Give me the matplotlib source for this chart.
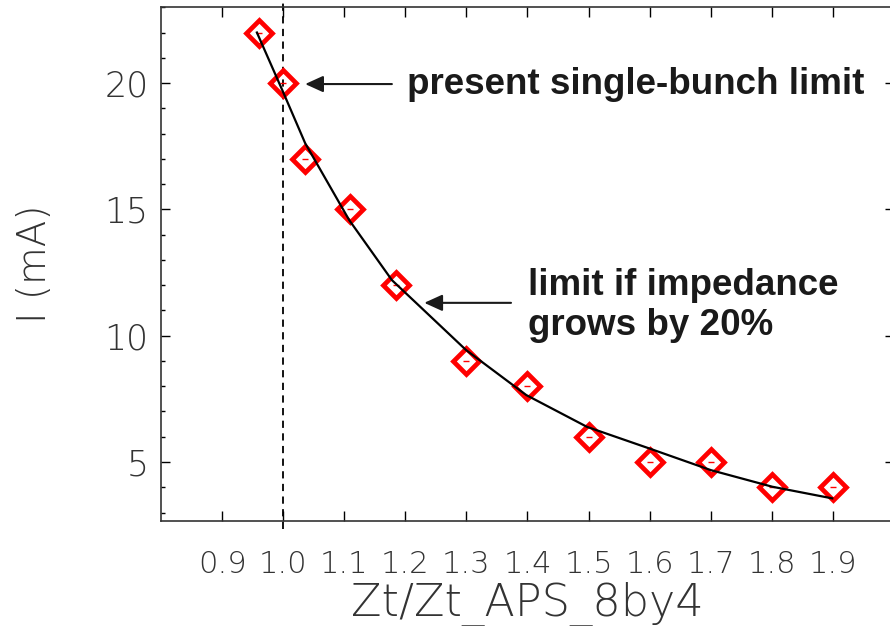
import numpy as np
import matplotlib.pyplot as plt
from matplotlib.ticker import MultipleLocator

# measured points (red diamonds)
zt = [0.96, 1.0, 1.035, 1.11, 1.185, 1.3, 1.4, 1.5, 1.6, 1.7, 1.8, 1.9]
current = [22, 20, 17, 15, 12, 9, 8, 6, 5, 5, 4, 4]

# fitted curve (black line)
fit_zt = [0.957, 1.0, 1.036, 1.108, 1.178, 1.218, 1.2995, 1.398, 1.4975,
          1.599, 1.700, 1.801, 1.899]
fit_current = [22.0, 19.64, 17.62, 14.58, 12.20, 11.29, 9.43, 7.65, 6.39,
               5.54, 4.68, 4.02, 3.56]

xticks = [0.9, 1.0, 1.1, 1.2, 1.3, 1.4, 1.5, 1.6, 1.7, 1.8, 1.9]
yticks = [5, 10, 15, 20]
present_limit = 1.0

fig = plt.figure(figsize=(8.9, 6.26), dpi=100)
ax = fig.add_axes([161/890, 105/626, 733/890, 514/626])

ax.plot(zt, current, linestyle='none', marker='D', markersize=13,
        markerfacecolor='none', markeredgecolor='red', markeredgewidth=3.4,
        zorder=3)
ax.plot(zt, current, linestyle='none', marker='_', markersize=4,
        markeredgecolor='red', markeredgewidth=1, zorder=3)
ax.plot(fit_zt, fit_current, color='black', lw=1.6, zorder=4)
ax.plot([present_limit, present_limit], [2.35, 23.3], color='black', lw=1.3,
        linestyle=(0, (4, 3)), clip_on=False, zorder=2)

ax.set_xlim(0.8, 2.0)
ax.set_ylim(2.665, 23.01)
ax.set_xticks(xticks)
ax.set_xticklabels(['%.1f' % v for v in xticks])
ax.set_yticks(yticks)
ax.yaxis.set_minor_locator(MultipleLocator(1))

lab_col = '#333333'
ax.tick_params(axis='x', which='major', direction='in', top=True, length=7.2,
               width=1, pad=21, labelsize=22, labelcolor=lab_col)
ax.tick_params(axis='y', which='major', direction='in', right=True, length=6.5,
               width=1, pad=9, labelsize=25, labelcolor=lab_col)
ax.tick_params(axis='y', which='minor', direction='in', right=True, length=3,
               width=1)
for lab in ax.get_xticklabels() + ax.get_yticklabels():
    lab.set_family('DejaVu Sans')
    lab.set_weight('ultralight')
for s in ax.spines.values():
    s.set_linewidth(1.2)
    s.set_color('#333333')

ax.set_xlabel('Zt/Zt_APS_8by4', family='DejaVu Sans', weight='ultralight',
              fontsize=32, color=lab_col)
ax.set_ylabel('I (mA)', family='DejaVu Sans', weight='ultralight',
              fontsize=28, color=lab_col)
ax.xaxis.set_label_coords(0.5, -0.118)
ax.yaxis.set_label_coords(-0.146, 0.5)

txt_col = '#1a1a1a'
head = '-|>,head_length=1.1,head_width=0.5'
ax.annotate('', xy=(1.036, 19.96), xytext=(1.178, 19.96),
            arrowprops=dict(arrowstyle=head, color=txt_col, lw=1.5,
                            shrinkA=0, shrinkB=0))
ax.text(1.203, 19.96, 'present single-bunch limit', family='Liberation Sans',
        weight='bold', fontsize=26.5, color=txt_col, va='center', ha='left')

ax.annotate('', xy=(1.231, 11.30), xytext=(1.373, 11.30),
            arrowprops=dict(arrowstyle=head, color=txt_col, lw=1.5,
                            shrinkA=0, shrinkB=0))
ax.text(1.401, 11.19, 'limit if impedance\ngrows by 20%',
        family='Liberation Sans', weight='bold', fontsize=26.5, color=txt_col,
        va='center', ha='left', linespacing=1.2)

fig.savefig('out.png', dpi=100)
